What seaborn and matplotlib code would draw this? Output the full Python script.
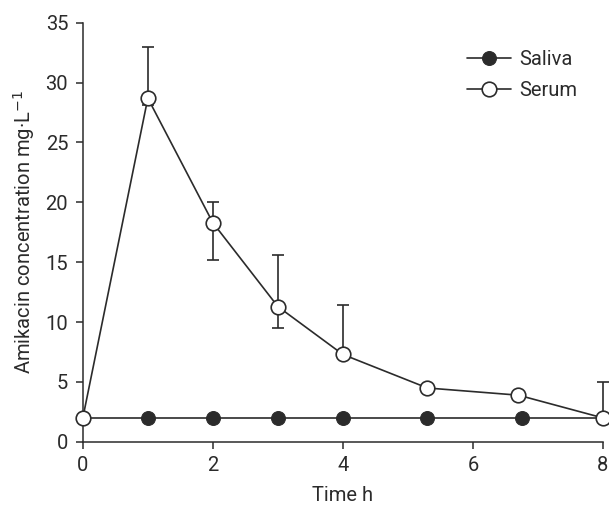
import numpy as np
import pandas as pd
import seaborn as sns
import matplotlib.pyplot as plt

# data
time_serum = [0, 1, 2, 3, 4, 5.3, 6.7, 8]
serum = [2.0, 28.7, 18.3, 11.3, 7.3, 4.5, 3.9, 2.0]
time_saliva = [0, 1, 2, 3, 4, 5.3, 6.75, 8]
saliva = [2.0, 2.0, 2.0, 2.0, 2.0, 2.0, 2.0, 2.0]

# error bars (only where drawn): time, lower end, upper end
err_time = [1, 2, 3, 4, 8]
err_low = [28.1, 15.2, 9.5, 7.0, 2.0]
err_high = [33.0, 20.0, 15.6, 11.4, 5.0]

sns.set_style("ticks")
plt.rcParams['font.family'] = ['Roboto', 'DejaVu Sans']

fig, ax = plt.subplots(figsize=(6.09, 5.05), dpi=100)
fig.subplots_adjust(left=0.136, right=0.990, bottom=0.125, top=0.955)

ink = "#2b2b2b"
fs = 14.5

df_sal = pd.DataFrame({"t": time_saliva, "c": saliva})
df_ser = pd.DataFrame({"t": time_serum, "c": serum})

sns.lineplot(data=df_sal, x="t", y="c", ax=ax, color=ink, lw=1.2,
             marker="o", markersize=10, markerfacecolor=ink,
             markeredgecolor=ink, label="Saliva", zorder=3, clip_on=False)

# error bars under the serum markers
emid = [serum[time_serum.index(t)] for t in err_time]
yerr = [np.array(emid) - np.array(err_low), np.array(err_high) - np.array(emid)]
ax.errorbar(err_time, emid, yerr=yerr, fmt="none", ecolor=ink, elinewidth=1.2,
            capsize=4.5, capthick=1.2, zorder=2, clip_on=False)

sns.lineplot(data=df_ser, x="t", y="c", ax=ax, color=ink, lw=1.2,
             marker="o", markersize=10.5, markerfacecolor="white",
             markeredgecolor=ink, markeredgewidth=1.2, label="Serum",
             zorder=4, clip_on=False)

ax.set_xlim(0, 8)
ax.set_ylim(0, 35)
ax.set_xticks([0, 2, 4, 6, 8])
ax.set_yticks(range(0, 36, 5))
ax.set_xlabel("Time h", fontsize=fs, color=ink, labelpad=8)
ax.set_ylabel("Amikacin concentration mg\u00b7L$^{-1}$", fontsize=fs, color=ink, labelpad=6)
ax.tick_params(labelsize=fs, colors=ink, length=5, width=1.1, direction="out")
ax.tick_params(axis="y", pad=5.5)
ax.tick_params(axis="x", pad=5)
sns.despine(ax=ax)
for s in ["left", "bottom"]:
    ax.spines[s].set_color(ink)
    ax.spines[s].set_linewidth(1.1)

ax.legend(loc="upper right", bbox_to_anchor=(0.985, 0.978), frameon=False,
          fontsize=fs, handlelength=2.2, handletextpad=0.4, labelspacing=0.6,
          labelcolor=ink)

fig.savefig("out.png", dpi=100)
